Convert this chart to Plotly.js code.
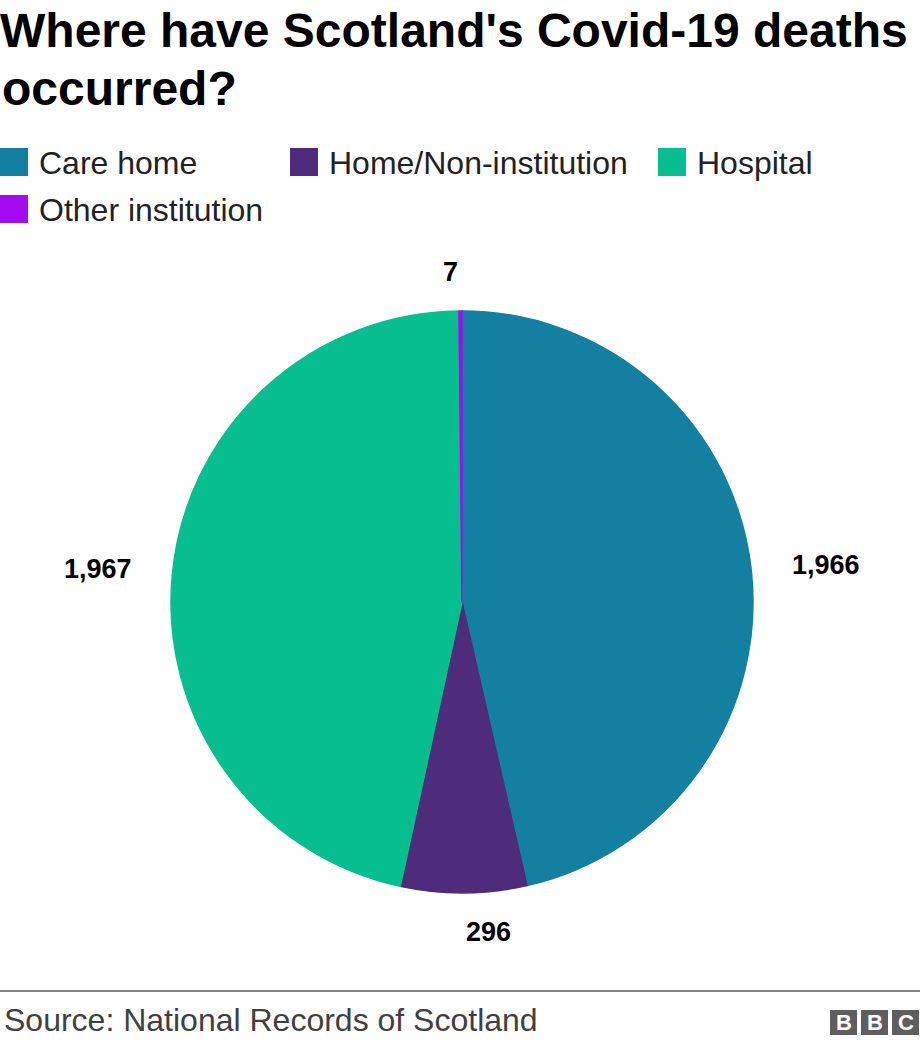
<!DOCTYPE html>
<html>
<head>
<meta charset="utf-8">
<script src="https://cdn.plot.ly/plotly-3.0.1.min.js"></script>
<style>
  html, body { margin: 0; padding: 0; background: #ffffff; }
  #chart { width: 920px; height: 1046px; }
</style>
</head>
<body>
<div id="chart"></div>
<script>
// ---- Data ----
const categories = ["Care home", "Home/Non-institution", "Hospital", "Other institution"];
const deaths = [1966, 296, 1967, 7];
const sliceColors = ["#1380A1", "#4E2C7B", "#07BF8E", "#A50BF3"];
const titleLines = ["Where have Scotland's Covid-19 deaths", "occurred?"];
const sourceText = "Source: National Records of Scotland";

// ---- Layout constants (pixels) ----
const W = 920, H = 1046;
const FONT = "'Liberation Sans', Arial, Helvetica, sans-serif";
const cx = 462, cy = 602, R = 291;      // pie centre & radius
const labelR = 330;                     // label anchor radius
const legendPos = [[0, 162], [290, 162], [658, 162], [0, 209]];
const sq = 28;

const px = x => x / W;
const py = y => 1 - y / H;

// ---- Pie trace ----
const pie = {
  type: "pie",
  labels: categories,
  values: deaths,
  marker: { colors: sliceColors, line: { width: 1.5, color: sliceColors } },
  sort: false,
  direction: "clockwise",
  rotation: 0,
  textinfo: "none",
  hoverinfo: "label+value",
  showlegend: false,
  domain: { x: [px(cx - R), px(cx + R)], y: [py(cy + R), py(cy - R)] }
};

const shapes = [];
const annotations = [];

// Outside value labels, placed from the slice mid-angles
const total = deaths.reduce((a, b) => a + b, 0);
let cum = 0;
deaths.forEach((v, i) => {
  const mid = (cum + v / 2) / total * 2 * Math.PI;
  cum += v;
  const s = Math.sin(mid), c = Math.cos(mid);
  const lx = cx + labelR * s, ly = cy - labelR * c;
  annotations.push({
    xref: "paper", yref: "paper", x: px(lx), y: py(ly),
    xanchor: s >= 0 ? "left" : "right", yanchor: "middle",
    text: "<b>" + v.toLocaleString("en-GB") + "</b>",
    showarrow: false,
    font: { family: FONT, size: 27, color: "#000000" }
  });
});

// Custom legend
categories.forEach((name, i) => {
  const [lx, ly] = legendPos[i];
  shapes.push({
    type: "rect", xref: "paper", yref: "paper",
    x0: px(lx), x1: px(lx + sq), y0: py(ly + sq / 2), y1: py(ly - sq / 2),
    fillcolor: sliceColors[i], line: { width: 0 }
  });
  annotations.push({
    xref: "paper", yref: "paper", x: px(lx + 37), y: py(ly + 1),
    xanchor: "left", yanchor: "middle", text: name, showarrow: false,
    font: { family: FONT, size: 32, color: "#222222" }
  });
});

// Title second line
annotations.push({
  xref: "paper", yref: "paper", x: px(0), y: py(88),
  xanchor: "left", yanchor: "middle", text: "<b>" + titleLines[1] + "</b>",
  showarrow: false, font: { family: FONT, size: 48, color: "#000000" }
});

// Footer line
shapes.push({
  type: "line", xref: "paper", yref: "paper",
  x0: 0, x1: 1, y0: py(991), y1: py(991),
  line: { color: "#7f7f7f", width: 2 }
});
// Source
annotations.push({
  xref: "paper", yref: "paper", x: px(2), y: py(1020),
  xanchor: "left", yanchor: "middle", text: sourceText, showarrow: false,
  font: { family: FONT, size: 32, color: "#404040" }
});
// BBC logo blocks
["B", "B", "C"].forEach((ch, i) => {
  const x0 = 830 + i * 31;
  shapes.push({
    type: "rect", xref: "paper", yref: "paper",
    x0: px(x0), x1: px(x0 + 27), y0: py(1035), y1: py(1010),
    fillcolor: "#5e5e5e", line: { width: 0 }
  });
  annotations.push({
    xref: "paper", yref: "paper", x: px(x0 + 13.5), y: py(1022.5),
    xanchor: "center", yanchor: "middle", text: "<b>" + ch + "</b>", showarrow: false,
    font: { family: FONT, size: 22, color: "#ffffff" }
  });
});

const layout = {
  width: W, height: H,
  margin: { l: 0, r: 0, t: 0, b: 0, pad: 0 },
  paper_bgcolor: "#ffffff",
  plot_bgcolor: "#ffffff",
  showlegend: false,
  title: {
    text: "<b>" + titleLines[0] + "</b>",
    x: 0, xref: "paper", xanchor: "left",
    y: py(30), yref: "container", yanchor: "middle",
    font: { family: FONT, size: 48, color: "#000000" }
  },
  shapes: shapes,
  annotations: annotations
};

Plotly.newPlot("chart", [pie], layout, { displayModeBar: false, staticPlot: true });
</script>
</body>
</html>
